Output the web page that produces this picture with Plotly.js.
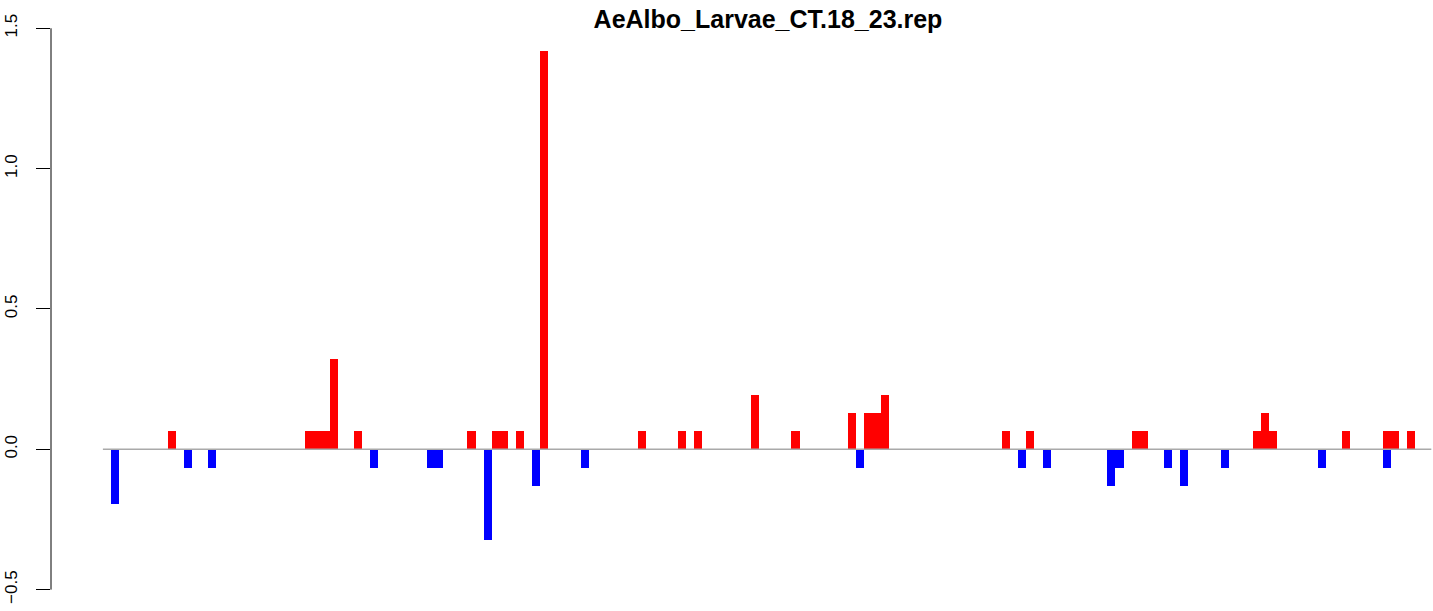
<!DOCTYPE html>
<html>
<head>
<meta charset="utf-8">
<script src="https://cdn.plot.ly/plotly-3.0.1.min.js"></script>
<style>html,body{margin:0;padding:0;background:#fff;}#chart{width:1433px;height:611px;}</style>
</head>
<body>
<div id="chart"></div>
<script>
const chartTitle = "AeAlbo_Larvae_CT.18_23.rep";

// Positive (red) values per bar, bar index 0..163
const upValues = [
  0,0,0,0,0,0,0,0,0.065,0,
  0,0,0,0,0,0,0,0,0,0,
  0,0,0,0,0,0.065,0.065,0.065,0.323,0,
  0,0.065,0,0,0,0,0,0,0,0,
  0,0,0,0,0,0.065,0,0,0.065,0.065,
  0,0.065,0,0,1.419,0,0,0,0,0,
  0,0,0,0,0,0,0.065,0,0,0,
  0,0.065,0,0.065,0,0,0,0,0,0,
  0.194,0,0,0,0,0.065,0,0,0,0,
  0,0,0.129,0,0.129,0.129,0.194,0,0,0,
  0,0,0,0,0,0,0,0,0,0,
  0,0.065,0,0,0.065,0,0,0,0,0,
  0,0,0,0,0,0,0,0.065,0.065,0,
  0,0,0,0,0,0,0,0,0,0,
  0,0,0.065,0.129,0.065,0,0,0,0,0,
  0,0,0,0.065,0,0,0,0,0.065,0.065,
  0,0.065,0,0
];

// Negative (blue) values per bar, bar index 0..163
const downValues = [
  0,-0.194,0,0,0,0,0,0,0,0,
  -0.065,0,0,-0.065,0,0,0,0,0,0,
  0,0,0,0,0,0,0,0,0,0,
  0,0,0,-0.065,0,0,0,0,0,0,
  -0.065,-0.065,0,0,0,0,0,-0.323,0,0,
  0,0,0,-0.129,0,0,0,0,0,-0.065,
  0,0,0,0,0,0,0,0,0,0,
  0,0,0,0,0,0,0,0,0,0,
  0,0,0,0,0,0,0,0,0,0,
  0,0,0,-0.065,0,0,0,0,0,0,
  0,0,0,0,0,0,0,0,0,0,
  0,0,0,-0.065,0,0,-0.065,0,0,0,
  0,0,0,0,-0.129,-0.065,0,0,0,0,
  0,-0.065,0,-0.129,0,0,0,0,-0.065,0,
  0,0,0,0,0,0,0,0,0,0,
  -0.065,0,0,0,0,0,0,0,-0.065,0,
  0,0,0,0
];

const yTickVals = [-0.5, 0, 0.5, 1, 1.5];
const yTickText = ["\u22120.5", "0.0", "0.5", "1.0", "1.5"];

const nBars = upValues.length;
const barCenters = upValues.map((_, i) => i + 0.5);

const traces = [
  {type: 'bar', x: barCenters, y: upValues, width: 1,
   marker: {color: '#FF0000', line: {width: 0}}, hoverinfo: 'y', showlegend: false},
  {type: 'bar', x: barCenters, y: downValues, width: 1,
   marker: {color: '#0000FF', line: {width: 0}}, hoverinfo: 'y', showlegend: false}
];

const layout = {
  width: 1433, height: 611,
  margin: {l: 51, r: 0, t: 8, b: 0, pad: 0},
  paper_bgcolor: '#ffffff', plot_bgcolor: '#ffffff',
  barmode: 'overlay', bargap: 0,
  showlegend: false,
  title: {
    text: '<b>' + chartTitle + '</b>',
    font: {family: 'Liberation Sans, Arial, sans-serif', size: 25, color: '#000'},
    xref: 'container', x: 768/1433, xanchor: 'center',
    yref: 'container', y: 1 - 19/611, yanchor: 'middle'
  },
  xaxis: {
    range: [-6.407, 164.21],
    visible: false, showgrid: false, zeroline: false, fixedrange: true
  },
  yaxis: {
    range: [-0.5761, 1.5722],
    showgrid: false, zeroline: false, showline: false,
    ticks: 'outside', ticklen: 14, tickwidth: 1, tickcolor: '#000',
    tickvals: yTickVals, ticktext: yTickText,
    tickangle: -90, ticklabelstandoff: 12,
    tickfont: {family: 'Liberation Sans, Arial, sans-serif', size: 17, color: '#000'}
  },
  shapes: [
    {type: 'line', xref: 'paper', yref: 'y', x0: 0, x1: 0, y0: -0.5, y1: 1.5,
     line: {color: '#000', width: 1}},
    {type: 'line', xref: 'x', yref: 'y', x0: 0, x1: nBars, y0: 0, y1: 0,
     layer: 'above', line: {color: '#A9A9A9', width: 1.5}}
  ]
};

Plotly.newPlot('chart', traces, layout, {displayModeBar: false, staticPlot: true});
</script>
</body>
</html>
